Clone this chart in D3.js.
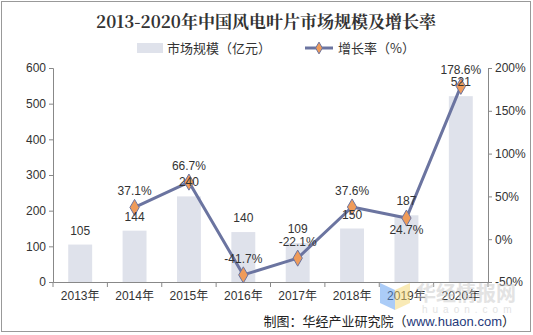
<!DOCTYPE html>
<html>
<head>
<meta charset="utf-8">
<script src="https://cdn.jsdelivr.net/npm/d3@7"></script>
<style>
  body { margin: 0; background: #fff; }
  svg { display: block; font-family: "Liberation Sans", Arial, "Noto Sans CJK SC", sans-serif; }
</style>
</head>
<body>
<svg id="chart" width="533" height="335"></svg>
<script>
// 2013-2020年中国风电叶片市场规模及增长率
const years = ["2013年", "2014年", "2015年", "2016年", "2017年", "2018年", "2019年", "2020年"];
const marketSize = [105, 144, 240, 140, 109, 150, 187, 521];
const growthRate = [null, 37.1, 66.7, -41.7, -22.1, 37.6, 24.7, 178.6];
const leftTicks = [0, 100, 200, 300, 400, 500, 600];
const rightTicks = [-50, 0, 50, 100, 150, 200];

const svg = d3.select("#chart");
const margin = { top: 68, right: 45, bottom: 53, left: 53 };
const width = +svg.attr("width") - margin.left - margin.right;
const height = +svg.attr("height") - margin.top - margin.bottom;

const barColor = "#dfe2eb";
const lineColor = "#6b74a0";
const markerColor = "#ef9b5a";
const textColor = "#333";
const axisColor = "#888";

// cadre extérieur
svg.append("rect")
  .attr("x", 1.5).attr("y", 1.5)
  .attr("width", 529).attr("height", 330)
  .attr("fill", "none")
  .attr("stroke", "#999");

// titre
svg.append("text")
  .attr("x", 266).attr("y", 28)
  .attr("text-anchor", "middle")
  .style("font-family", "'Noto Serif CJK SC', 'Noto Sans CJK SC', serif")
  .style("font-weight", "bold")
  .style("font-size", "17px")
  .style("fill", "#333")
  .text("2013-2020年中国风电叶片市场规模及增长率");

// légende
const legend = svg.append("g").style("font-size", "13px").style("fill", textColor);
legend.append("rect")
  .attr("x", 137).attr("y", 43).attr("width", 26).attr("height", 10)
  .attr("fill", barColor);
legend.append("text")
  .attr("x", 167).attr("y", 53)
  .style("font-family", "'Noto Sans CJK SC', sans-serif")
  .text("市场规模（亿元）");
legend.append("line")
  .attr("x1", 305).attr("x2", 333).attr("y1", 48).attr("y2", 48)
  .attr("stroke", lineColor).attr("stroke-width", 3);
legend.append("path")
  .attr("d", d3.symbol(d3.symbolDiamond, 40)())
  .attr("transform", "translate(319,48)")
  .attr("fill", markerColor).attr("stroke", lineColor).attr("stroke-width", 1);
legend.append("text")
  .attr("x", 338).attr("y", 53)
  .style("font-family", "'Noto Sans CJK SC', sans-serif")
  .text("增长率（%）");

const g = svg.append("g").attr("transform", `translate(${margin.left},${margin.top})`);

// échelles
const x = d3.scaleBand().domain(years).range([0, width]).paddingInner(0.56).paddingOuter(0.28);
const band = d3.scaleBand().domain(years).range([0, width]);
const y = d3.scaleLinear().domain([0, 600]).range([height, 0]);
const y2 = d3.scaleLinear().domain([-50, 200]).range([height, 0]);

// filigrane
const wm = svg.append("g").attr("opacity", 0.5);
wm.append("path").attr("d", "M380,283 L395,290 L395,310 L380,303 Z").attr("fill", "#5a9af0");
wm.append("path").attr("d", "M395,290 L410,283 L410,303 L395,310 Z").attr("fill", "#f5d770");
wm.append("text").attr("x", 416).attr("y", 301)
  .style("font-family", "'Noto Sans CJK SC', sans-serif")
  .style("font-weight", "bold").style("font-size", "20px").style("fill", "#c8c8c8")
  .text("华经情报网");
wm.append("text").attr("x", 422).attr("y", 313)
  .style("font-size", "10px").style("letter-spacing", "5px").style("fill", "#c8c8c8")
  .text("huaon.com");

// barres
g.selectAll(".bar")
  .data(marketSize)
  .enter().append("rect")
  .attr("class", "bar")
  .attr("x", (d, i) => x(years[i]))
  .attr("y", d => y(d))
  .attr("width", x.bandwidth())
  .attr("height", d => height - y(d))
  .attr("fill", barColor);

// axes
const yAxis = g.append("g").call(d3.axisLeft(y).tickValues(leftTicks).tickSize(4).tickPadding(3));
const y2Axis = g.append("g").attr("transform", `translate(${width},0)`)
  .call(d3.axisRight(y2).tickValues(rightTicks).tickSize(4).tickPadding(3).tickFormat(d => d + "%"));
const xAxis = g.append("g").attr("transform", `translate(0,${height})`)
  .call(d3.axisBottom(band).tickSize(0).tickPadding(9));

// ticks aux limites des catégories
xAxis.selectAll(".sep")
  .data(d3.range(years.length + 1))
  .enter().append("line")
  .attr("class", "sep")
  .attr("x1", i => i * band.step()).attr("x2", i => i * band.step())
  .attr("y1", 0).attr("y2", 5)
  .attr("stroke", axisColor);

[yAxis, y2Axis, xAxis].forEach(a => {
  a.selectAll(".domain, .tick line").attr("stroke", axisColor);
  a.selectAll("text").style("fill", textColor).style("font-size", "12px")
    .style("font-family", "'Liberation Sans', 'Noto Sans CJK SC', sans-serif");
});

// ligne de croissance
const cx = i => band(years[i]) + band.bandwidth() / 2;
const pts = growthRate.map((d, i) => ({ d, i })).filter(p => p.d !== null);
const line = d3.line().x(p => cx(p.i)).y(p => y2(p.d));

g.append("path")
  .datum(pts)
  .attr("d", line)
  .attr("fill", "none")
  .attr("stroke", lineColor)
  .attr("stroke-width", 3)
  .attr("stroke-linejoin", "round");

g.selectAll(".marker")
  .data(pts)
  .enter().append("path")
  .attr("class", "marker")
  .attr("d", d3.symbol(d3.symbolDiamond, 75)())
  .attr("transform", p => `translate(${cx(p.i)},${y2(p.d)})`)
  .attr("fill", markerColor)
  .attr("stroke", lineColor)
  .attr("stroke-width", 1);

// étiquettes des barres
g.selectAll(".barLabel")
  .data(marketSize)
  .enter().append("text")
  .attr("x", (d, i) => cx(i))
  .attr("y", d => y(d) - 10)
  .attr("text-anchor", "middle")
  .style("font-size", "12px").style("fill", textColor)
  .text(d => d);

// étiquettes des taux (2019 en dessous)
g.selectAll(".rateLabel")
  .data(pts)
  .enter().append("text")
  .attr("x", p => cx(p.i))
  .attr("y", p => p.i === 6 ? y2(p.d) + 16 : y2(p.d) - 12)
  .attr("text-anchor", "middle")
  .style("font-size", "12px").style("fill", textColor)
  .text(p => p.d.toFixed(1) + "%");

// source
const src = svg.append("text")
  .attr("x", 515).attr("y", 326)
  .attr("text-anchor", "end")
  .style("font-size", "13px").style("fill", "#222")
  .style("font-family", "'Noto Sans CJK SC', sans-serif");
src.append("tspan").text("制图：华经产业研究院（");
src.append("tspan").style("fill", "#1f3a7a").style("font-family", "'Liberation Sans', sans-serif").text("www.huaon.com");
src.append("tspan").text("）");
</script>
</body>
</html>
